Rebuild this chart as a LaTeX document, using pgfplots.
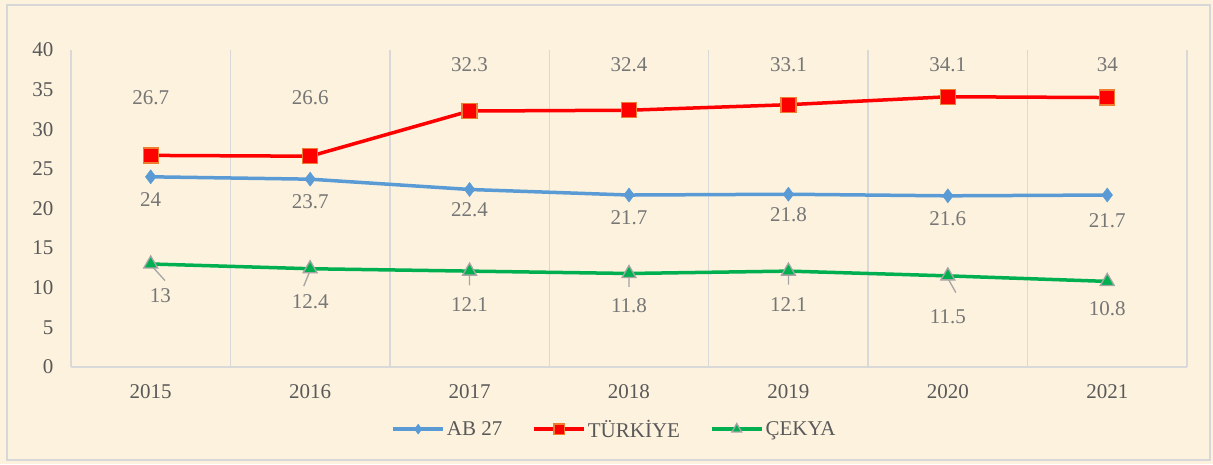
\documentclass[border=0pt]{standalone}
\usepackage{pgfplots}
\pgfplotsset{compat=1.18}
\usepackage{fontspec}
\setmainfont{Liberation Serif}
\definecolor{bg}{RGB}{252,242,222}
\definecolor{frame}{RGB}{215,215,215}
\definecolor{gridc}{RGB}{217,217,217}
\definecolor{tickc}{RGB}{89,89,89}
\definecolor{labc}{RGB}{118,118,118}
\definecolor{ablue}{RGB}{91,155,213}
\definecolor{tred}{RGB}{255,0,0}
\definecolor{torange}{RGB}{237,125,49}
\definecolor{cgreen}{RGB}{0,176,80}
\definecolor{cgray}{RGB}{165,165,165}
\begin{document}
\begin{tikzpicture}
\fill[bg] (-71pt,-97pt) rectangle (1142pt,367pt);
\draw[frame, line width=1.2pt] (-64pt,-93pt) rectangle (1139pt,362pt);
\begin{axis}[
  scale only axis, width=1116pt, height=317pt,
  xmin=-0.5, xmax=6.5, ymin=0, ymax=40,
  xtick={0,1,2,3,4,5,6},
  xticklabels={2015,2016,2017,2018,2019,2020,2021},
  ytick={0,5,...,40},
  minor xtick={-0.5,0.5,...,6.5},
  xminorgrids, minor grid style={gridc, line width=1.3pt},
  axis x line*=bottom, axis y line*=left,
  axis line style={gridc, line width=1.5pt, -},
  major tick length=0pt, minor tick length=0pt,
  tick label style={font=\fontsize{21}{21}\selectfont, text=tickc},
  /pgf/number format/assume math mode=true,
  xticklabel style={yshift=-14pt},
  yticklabel style={xshift=-14pt},
  clip=false,
  legend style={at={(0.487,-0.196)}, anchor=center, draw=none, fill=none,
    legend columns=3, font=\fontsize{21}{21}\selectfont, text=tickc,
    /tikz/every even column/.append style={column sep=28pt}},
  legend image code/.code={\draw[mark repeat=2,mark phase=2, every mark/.append style={scale=0.7}] plot coordinates {(0pt,0pt)(25pt,0pt)(50pt,0pt)};},
]
\addplot[color=ablue, line width=3.5pt, mark=diamond*, mark size=7pt, mark options={fill=ablue, draw=ablue, line width=0.5pt}]
  coordinates {(0,24)(1,23.7)(2,22.4)(3,21.7)(4,21.8)(5,21.6)(6,21.7)};
\addlegendentry{AB 27}
\addplot[color=tred, line width=3.5pt, mark=square*, mark size=7.5pt, mark options={fill=tred, draw=torange, line width=1.3pt}]
  coordinates {(0,26.7)(1,26.6)(2,32.3)(3,32.4)(4,33.1)(5,34.1)(6,34)};
\addlegendentry{TÜRKİYE}
\addplot[forget plot, cgray, line width=1.3pt, unbounded coords=jump]
  coordinates {(0,12.9)(0.09,10.9)(0,nan)(1,12.2)(0.96,10.2)(1,nan)(2,11.8)(2,10.3)(2,nan)(3,11.5)(3,10.1)(3,nan)(4,11.8)(4,10.4)(4,nan)(5,11.2)(5.05,9.4)};
\addplot[color=cgreen, line width=3.5pt, mark=triangle*, mark size=8pt, mark options={fill=cgreen, draw=cgray, line width=1.3pt}]
  coordinates {(0,13)(1,12.4)(2,12.1)(3,11.8)(4,12.1)(5,11.5)(6,10.8)};
\addlegendentry{ÇEKYA}
% data labels
\addplot[forget plot, draw=none, mark=none, nodes near coords, point meta=explicit symbolic,
  every node near coord/.append style={anchor=center, font=\fontsize{21}{21}\selectfont, text=labc}]
  table[meta=lab] {
x y lab
0 34.0 26.7
1 34.0 26.6
2 38.1 32.3
3 38.1 32.4
4 38.1 33.1
5 38.1 34.1
6 38.1 34
0 21.1 24
1 20.8 23.7
2 19.8 22.4
3 18.9 21.7
4 19.2 21.8
5 18.7 21.6
6 18.5 21.7
0.06 9.0 13
1 8.3 12.4
2 7.8 12.1
3 7.8 11.8
4 7.8 12.1
5 6.4 11.5
6 7.3 10.8
};
\end{axis}
\end{tikzpicture}
\end{document}
